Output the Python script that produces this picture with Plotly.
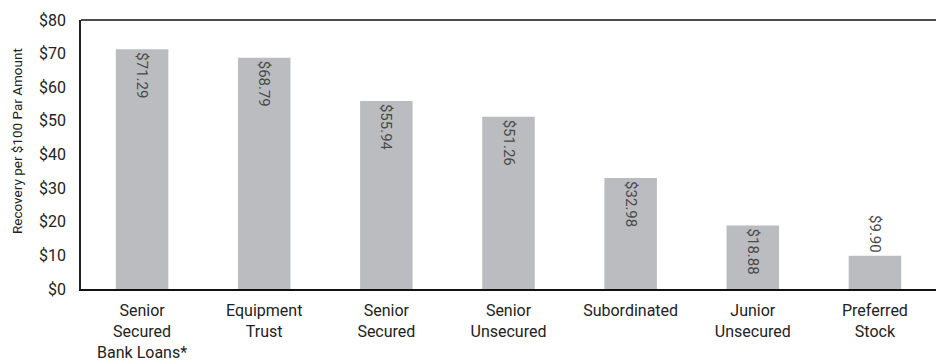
import plotly.graph_objects as go

# Recovery values per $100 par amount, by debt seniority
categories = [
    "Senior<br>Secured<br>Bank Loans*",
    "Equipment<br>Trust",
    "Senior<br>Secured",
    "Senior<br>Unsecured",
    "Subordinated",
    "Junior<br>Unsecured",
    "Preferred<br>Stock",
]
recovery = [71.29, 68.79, 55.94, 51.26, 32.98, 18.88, 9.90]
y_ticks = [0, 10, 20, 30, 40, 50, 60, 70, 80]
y_tick_labels = ["$0", "$10", "$20", "$30", "$40", "$50", "$60", "$70", "$80"]
y_title = "Recovery per $100 Par Amount"

FONT = "Roboto, Liberation Sans, sans-serif"

labels = [f"${v:.2f}" for v in recovery]
# Short bars get their label above the bar
positions = ["inside" if v > 15 else "outside" for v in recovery]

fig = go.Figure(
    go.Bar(
        x=list(range(len(categories))),
        y=recovery,
        width=0.43,
        marker=dict(color="#bbbcc0", line=dict(width=0)),
        text=labels,
        textposition=positions,
        insidetextanchor="end",
        textangle=90,
        constraintext="none",
        cliponaxis=False,
        textfont=dict(family=FONT, size=15, color="#4a4a4a"),
        hoverinfo="skip",
    )
)

fig.update_layout(
    width=936,
    height=364,
    margin=dict(l=81, r=0, t=20, b=75),
    paper_bgcolor="white",
    plot_bgcolor="white",
    showlegend=False,
    bargap=0.57,
    font=dict(family=FONT, size=16, color="#222222"),
    uniformtext=dict(minsize=15, mode="show"),
    xaxis=dict(
        range=[-0.5, len(categories) - 0.5],
        tickmode="array",
        tickvals=list(range(len(categories))),
        ticktext=categories,
        showgrid=False,
        zeroline=False,
        showline=True,
        linecolor="#111111",
        linewidth=2,
        ticks="",
        ticklabelstandoff=6,
        tickfont=dict(family=FONT, size=16, color="#222222"),
        fixedrange=True,
    ),
    yaxis=dict(
        range=[0, 80],
        tickmode="array",
        tickvals=y_ticks,
        ticktext=y_tick_labels,
        showgrid=False,
        zeroline=False,
        showline=True,
        linecolor="#222222",
        linewidth=1.5,
        ticks="",
        ticklabelstandoff=10,
        tickfont=dict(family=FONT, size=16, color="#222222"),
        fixedrange=True,
    ),
    annotations=[
        dict(
            text=y_title,
            xref="paper",
            yref="paper",
            x=-81 / 855 + 17 / 855,
            y=0.55,
            textangle=-90,
            showarrow=False,
            xanchor="center",
            yanchor="middle",
            font=dict(family=FONT, size=13.5, color="#222222"),
        )
    ],
    shapes=[
        dict(
            type="line",
            xref="paper",
            yref="paper",
            x0=0,
            x1=1,
            y0=1,
            y1=1,
            line=dict(color="#4d4d4d", width=2),
        )
    ],
)

fig.write_html("out.html")
